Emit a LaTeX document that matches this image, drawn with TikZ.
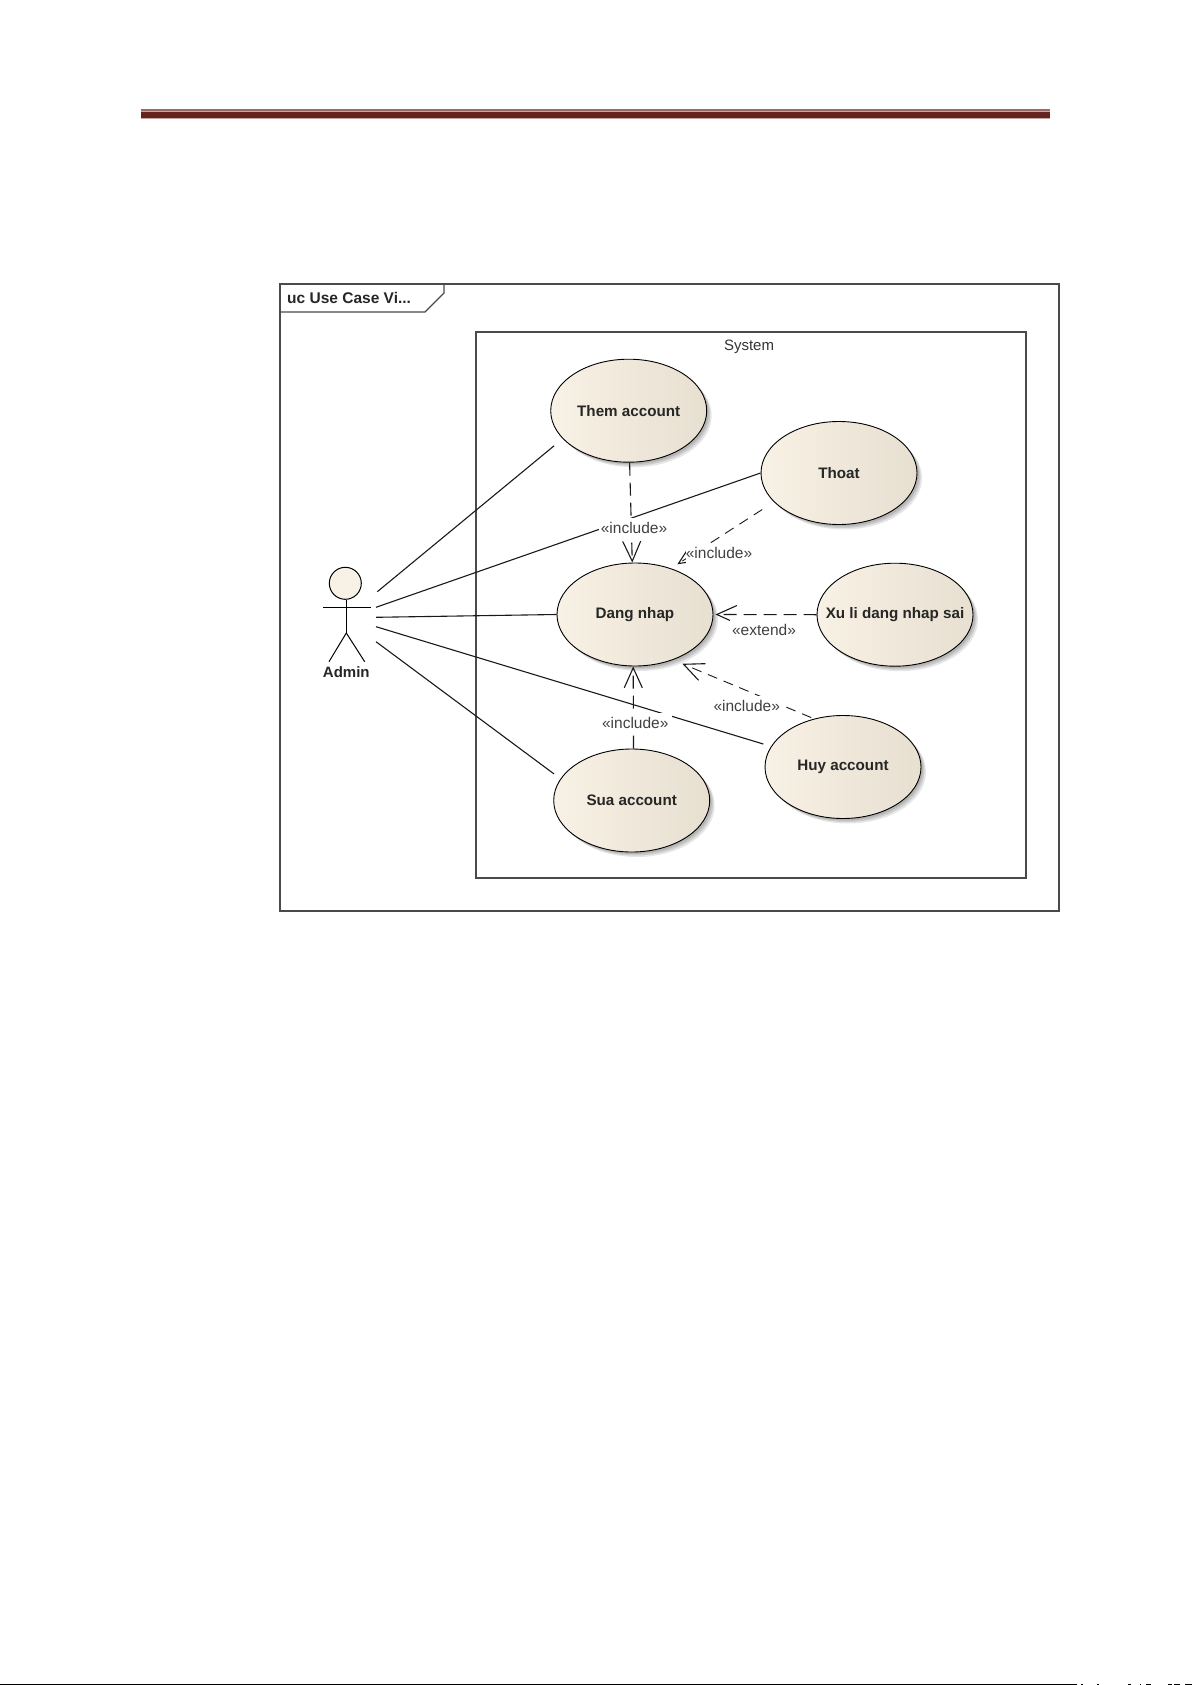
\documentclass[tikz,border=0pt]{standalone}
\usepackage{fontspec}
\setmainfont{Liberation Sans}
\usetikzlibrary{arrows.meta,shapes.geometric,shadows}
\definecolor{framecol}{HTML}{4A4A4A}
\definecolor{barcol}{HTML}{652320}
\definecolor{barlight}{HTML}{C9A6A4}
\definecolor{barthin}{HTML}{9A6A68}
\definecolor{ucleft}{HTML}{F8F1E5}
\definecolor{ucright}{HTML}{E7DFD0}
\tikzset{
  ucase/.style={ellipse,draw=black,line width=0.9pt,minimum width=156pt,minimum height=103pt,inner sep=0pt,
    left color=ucleft,right color=ucright,
    drop shadow={shadow xshift=2pt,shadow yshift=-2pt,fill=gray,opacity=.3},
    drop shadow={shadow xshift=3.5pt,shadow yshift=-3.5pt,fill=gray,opacity=.25},
    drop shadow={shadow xshift=5pt,shadow yshift=-5pt,fill=gray,opacity=.2},
    font=\fontsize{15.2}{18}\selectfont\bfseries,text=black!85},
  framebox/.style={draw=framecol,line width=1.6pt},
  assoc/.style={draw=black!90,line width=1.1pt},
  dep/.style={draw=black!90,line width=1.1pt,dash pattern=on 13pt off 7pt,
    -{Straight Barb[length=20pt,width=18pt,line width=1.1pt]}},
  depthin/.style={dep,line width=0.9pt,dash pattern=on 10pt off 7pt},
  deplabel/.style={fill=white,inner xsep=2pt,inner ysep=0pt,minimum height=20pt,text=black!75,
    font=\fontsize{15.5}{18}\selectfont},
  actorline/.style={draw=black,line width=1pt},
}
\begin{document}
\begin{tikzpicture}[x=1pt,y=-1pt]
\useasboundingbox (0,0) rectangle (1192,1685);
% page rules
\fill[barthin] (141,109) rectangle (1050,110.7);
\fill[barlight] (141,111.4) rectangle (1050,119);
\fill[barcol] (141,112) rectangle (1050,118);
\fill[black] (0,1684) rectangle (1077,1685);
\foreach \xa/\xb in {1081/1083,1097/1099,1128/1131,1140/1141,1146/1151,1168/1172,1174/1180,1185/1192}
  \fill[black] (\xa,1684) rectangle (\xb,1685);
% diagram frame
\draw[framebox] (280,284) rectangle (1059,911);
\draw[framebox,line width=1.2pt] (280,312) -- (425,312) -- (444,293) -- (444,284);
\node[anchor=west,font=\fontsize{15.5}{18}\selectfont\bfseries,text=black!85,inner sep=0pt] (title) at (287,298) {uc Use Case Vi...};
% system boundary
\draw[framebox] (475.7,332) rectangle (1026,877.7);
\node[font=\fontsize{15}{18}\selectfont,text=black!80,inner sep=0pt] (sys) at (749,347.3) {System};
% use cases
\node[ucase] (them) at (628.7,410.7) {Them account};
\node[ucase] (thoat) at (839,473) {Thoat};
\node[ucase] (dang) at (635,614.5) {Dang nhap};
\node[ucase] (xuli) at (895,614.7) {\makebox[0pt]{Xu li dang nhap sai}};
\node[ucase] (huy) at (843,767) {Huy account};
\node[ucase] (sua) at (631.7,800.5) {Sua account};
% actor
\draw[actorline,fill=ucleft] (345.3,583.3) circle (16pt);
\node[inner sep=0pt,font=\fontsize{15}{18}\selectfont\bfseries,text=black!85] (admin) at (346.3,672) {Admin};
\draw[actorline] (346.3,600) -- (346.3,633);
\draw[actorline] (323.3,607) -- (370.7,607);
\draw[actorline] (329,661.7) -- (346.3,633) -- (364.7,661.7);
\coordinate (a1) at (377.3,591.7);
\coordinate (a2) at (376,607.3);
\coordinate (a3) at (376,617.3);
\coordinate (a4) at (376,626.7);
\coordinate (a5) at (376,641.7);
% associations
\draw[assoc,shorten >=11pt] (a1) -- (them.203);
\draw[assoc] (a2) -- (thoat.west);
\draw[assoc] (a3) -- (dang.west);
\draw[assoc,shorten >=8pt] (a4) -- (huy.164);
\draw[assoc,shorten >=8pt] (a5) -- (sua.163);
% dependencies
\draw[dep] (them.271) -- (dang.93);
\draw[depthin,shorten <=14pt,shorten >=7.5pt] (thoat.204) -- (dang.52);
\draw[dep,shorten >=2pt] (xuli.west) -- (dang.east);
\draw[depthin,shorten <=3pt,shorten >=10pt] (huy.121) -- (dang.310);
\draw[dep] (sua.88) -- (dang.268);
% labels
\node[deplabel] (l1) at (634,528.3) {«include»};
\node[deplabel,inner xsep=0pt] (l2) at (719,552.7) {«include»};
\node[deplabel] (l3) at (764,629.5) {«extend»};
\node[deplabel] (l4) at (746.7,705.7) {«include»};
\node[deplabel,minimum width=74pt,inner xsep=0pt] (l5) at (635.3,722.5) {«include»};
\end{tikzpicture}
\end{document}
